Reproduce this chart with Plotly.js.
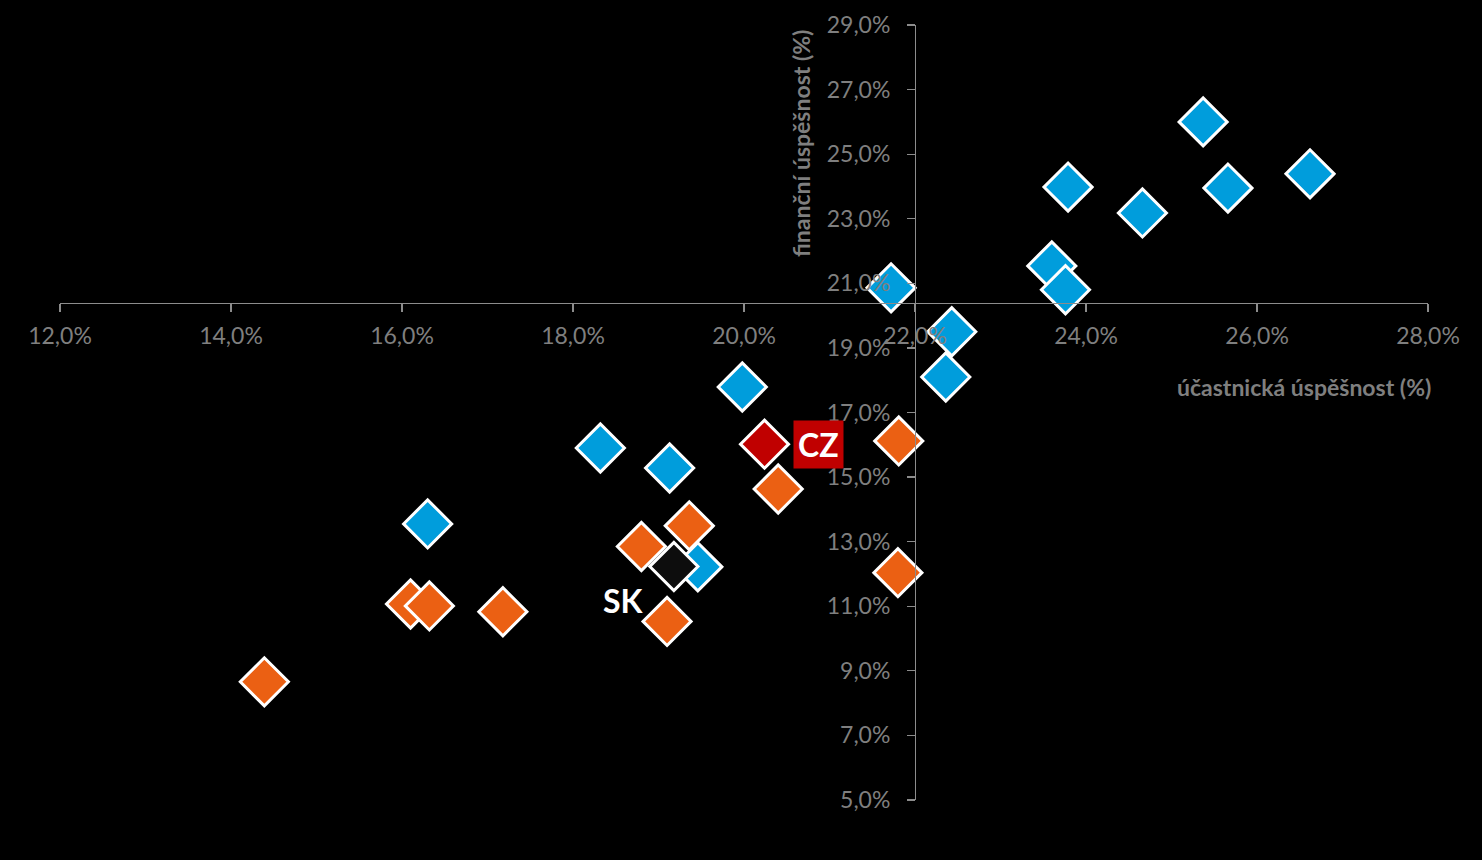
<!DOCTYPE html>
<html>
<head>
<meta charset="utf-8">
<script src="https://cdn.plot.ly/plotly-3.0.1.min.js"></script>
<style>
html,body{margin:0;padding:0;background:#000;}
#chart{width:1482px;height:860px;}
</style>
</head>
<body>
<div id="chart"></div>
<script>
// účastnická úspěšnost (%) = x, finanční úspěšnost (%) = y
const blueX = [25.37, 26.62, 25.66, 23.79, 24.66, 23.60, 23.76, 21.72, 22.43, 22.36, 19.98, 18.32, 19.13, 16.30, 19.46];
const blueY = [26.00, 24.39, 23.95, 23.98, 23.18, 21.54, 20.80, 20.86, 19.50, 18.10, 17.79, 15.90, 15.28, 13.55, 12.22];

const orangeX = [14.39, 16.10, 16.32, 17.18, 18.80, 19.36, 19.10, 20.40, 21.81, 21.80];
const orangeY = [8.66, 11.07, 11.01, 10.83, 12.85, 13.49, 10.53, 14.63, 16.12, 12.04];

const czX = [20.24];
const czY = [16.02];
const skX = [19.18];
const skY = [12.23];

const xRange = [12, 28];
const yRange = [5, 29];
const xCross = 20.39;   // value of y where x-axis crosses
const yCross = 22;      // value of x where y-axis crosses

const xTicks = [12, 14, 16, 18, 20, 22, 24, 26, 28];
const xTickLabels = ['12,0%', '14,0%', '16,0%', '18,0%', '20,0%', '22,0%', '24,0%', '26,0%', '28,0%'];
const yTicks = [5, 7, 9, 11, 13, 15, 17, 19, 21, 23, 25, 27, 29];
const yTickLabels = ['5,0%', '7,0%', '9,0%', '11,0%', '13,0%', '15,0%', '17,0%', '19,0%', '21,0%', '23,0%', '25,0%', '27,0%', '29,0%'];

const FONT = 'Lato, "Open Sans", sans-serif';
const GRAY = '#7f7f7f';
const AXIS = '#8c8c8c';

function diamondTrace(x, y, color, name) {
  return {
    type: 'scatter', mode: 'markers', x: x, y: y, name: name,
    marker: {symbol: 'diamond', size: 37, color: color, line: {color: '#ffffff', width: 3}},
    hoverinfo: 'x+y'
  };
}

const data = [
  diamondTrace(blueX, blueY, '#009ddc', 'blue'),
  diamondTrace(orangeX, orangeY, '#eb6013', 'orange'),
  diamondTrace(czX, czY, '#c00000', 'CZ'),
  diamondTrace(skX, skY, '#0d0d0d', 'SK')
];

const layout = {
  width: 1482, height: 860,
  paper_bgcolor: '#000000', plot_bgcolor: '#000000',
  margin: {l: 60, r: 54, t: 25, b: 60},
  showlegend: false,
  font: {family: FONT, color: GRAY, size: 23},
  xaxis: {
    range: xRange, tickmode: 'array', tickvals: xTicks, ticktext: xTickLabels,
    showgrid: false, zeroline: false, showline: true, linecolor: AXIS, linewidth: 1.3,
    ticks: 'outside', ticklen: 8, tickcolor: AXIS, tickwidth: 1.3,
    anchor: 'free', position: (xCross - yRange[0]) / (yRange[1] - yRange[0]),
    tickfont: {family: FONT, color: GRAY, size: 23},
    ticklabelstandoff: 4
  },
  yaxis: {
    range: yRange, tickmode: 'array', tickvals: yTicks, ticktext: yTickLabels,
    showgrid: false, zeroline: false, showline: true, linecolor: AXIS, linewidth: 1.3,
    ticks: 'outside', ticklen: 8, tickcolor: AXIS, tickwidth: 1.3,
    anchor: 'free', position: (yCross - xRange[0]) / (xRange[1] - xRange[0]),
    tickfont: {family: FONT, color: GRAY, size: 23},
    ticklabelstandoff: 12
  },
  annotations: [
    {text: '<b>finanční úspěšnost (%)</b>', xref: 'paper', yref: 'paper',
     x: (801 - 60) / 1368, y: 1 - (144 - 25) / 775, textangle: -90, showarrow: false,
     xanchor: 'center', yanchor: 'middle', font: {family: FONT, color: GRAY, size: 23}},
    {text: '<b>účastnická úspěšnost (%)</b>', xref: 'paper', yref: 'paper',
     x: (1433 - 60) / 1368, y: 1 - (387 - 25) / 775, showarrow: false,
     xanchor: 'right', yanchor: 'middle', font: {family: FONT, color: GRAY, size: 23}},
    {text: '<b>CZ</b>', x: czX[0], y: czY[0], xref: 'x', yref: 'y', showarrow: false,
     xshift: 54, bgcolor: '#c00000', borderpad: 4,
     font: {family: FONT, color: '#ffffff', size: 32}},
    {text: '<b>SK</b>', x: skX[0], y: skY[0], xref: 'x', yref: 'y', showarrow: false,
     xshift: -50, yshift: -34,
     font: {family: FONT, color: '#ffffff', size: 32}}
  ]
};

Plotly.newPlot('chart', data, layout, {staticPlot: true, displayModeBar: false});
</script>
</body>
</html>
